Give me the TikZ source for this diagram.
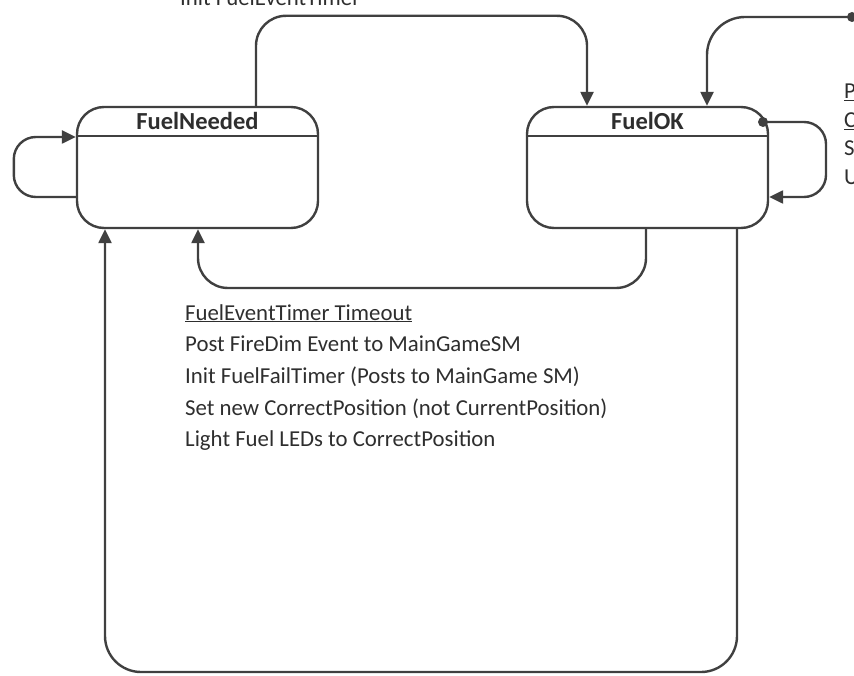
\documentclass[tikz,border=0pt]{standalone}
\usepackage{fontspec}
\setmainfont{Carlito}
\usetikzlibrary{arrows.meta}
\definecolor{ln}{HTML}{404040}
\definecolor{tx}{HTML}{2E2E2E}
\tikzset{
  state/.style={draw=ln, line width=2.4pt, rounded corners=27pt,
    minimum width=241pt, minimum height=121pt, inner sep=0pt},
  head/.style={font=\fontsize{24.5}{28}\selectfont\bfseries, text=tx},
  trans/.style={draw=ln, line width=2.4pt, rounded corners=30pt,
    -{Triangle[length=14pt,width=13pt]}},
  dotstart/.style={fill=ln, circle, inner sep=0pt, minimum size=10pt},
  label/.style={font=\fontsize{22.8}{31.7}\selectfont, text=tx, inner sep=0pt}
}
\begin{document}
\begin{tikzpicture}[x=1pt, y=-1pt]
\useasboundingbox (0,0) rectangle (854,676);
\clip (0,0) rectangle (854,676);

% states
\node[state] (fn) at (197.5,167.5) {};
\node[state] (fok) at (647.5,167.5) {};
\draw[ln, line width=2.4pt] ([yshift=-30pt]fn.north west) -- ([yshift=-30pt]fn.north east);
\draw[ln, line width=2.4pt] ([yshift=-30pt]fok.north west) -- ([yshift=-30pt]fok.north east);
\node[head] (fnh) at ([yshift=-15pt]fn.north) {FuelNeeded};
\node[head] (fokh) at ([yshift=-15pt]fok.north) {FuelOK};

% FuelNeeded -> FuelOK over the top
\draw[trans] ([xshift=58.5pt]fn.north) -- ++(0,-90) -| ([xshift=-60.5pt]fok.north);

% entry from the right edge
\coordinate (rin) at (852,17);
\node[dotstart] (rdot) at (rin) {};
\draw[trans, rounded corners=38pt] (rin) -| ([xshift=59.5pt]fok.north);

% FuelNeeded self loop
\draw[trans, rounded corners=22pt] ([yshift=-29.5pt]fn.west) -- ++(-62,0) |- ([yshift=30.5pt]fn.west);

% FuelOK self loop
\coordinate (okd) at (763,122);
\node[dotstart] (okdot) at (okd) {};
\draw[trans, rounded corners=22pt] (okd) -- (826,122) |- ([yshift=-29.5pt]fok.east);

% FuelOK -> FuelNeeded below
\draw[trans] ([xshift=-1.5pt]fok.south) |- (400,288) -| ([xshift=0.5pt]fn.south);

% long return loop
\draw[trans, rounded corners=36pt] ([xshift=89.5pt]fok.south) -- (737,672) -| ([xshift=-92.5pt]fn.south);

% transition label
\node[label, anchor=north west, align=left] (lbl) at (185,304)
 {\underline{FuelEventTimer Timeout}\\
  Post FireDim Event to MainGameSM\\
  Init FuelFailTimer (Posts to MainGame SM)\\
  Set new CorrectPosition (not CurrentPosition)\\
  Light Fuel LEDs to CorrectPosition};

% partly visible texts at the edges
\node[label, anchor=base west] (toptxt) at (180,6) {Init FuelEventTimer};
\node[label, anchor=north west, align=left, font=\fontsize{22.8}{28.5}\selectfont] (rtxt) at (844,84)
 {\underline{P}\\ \underline{C}\\ S\\ U};
\end{tikzpicture}
\end{document}
